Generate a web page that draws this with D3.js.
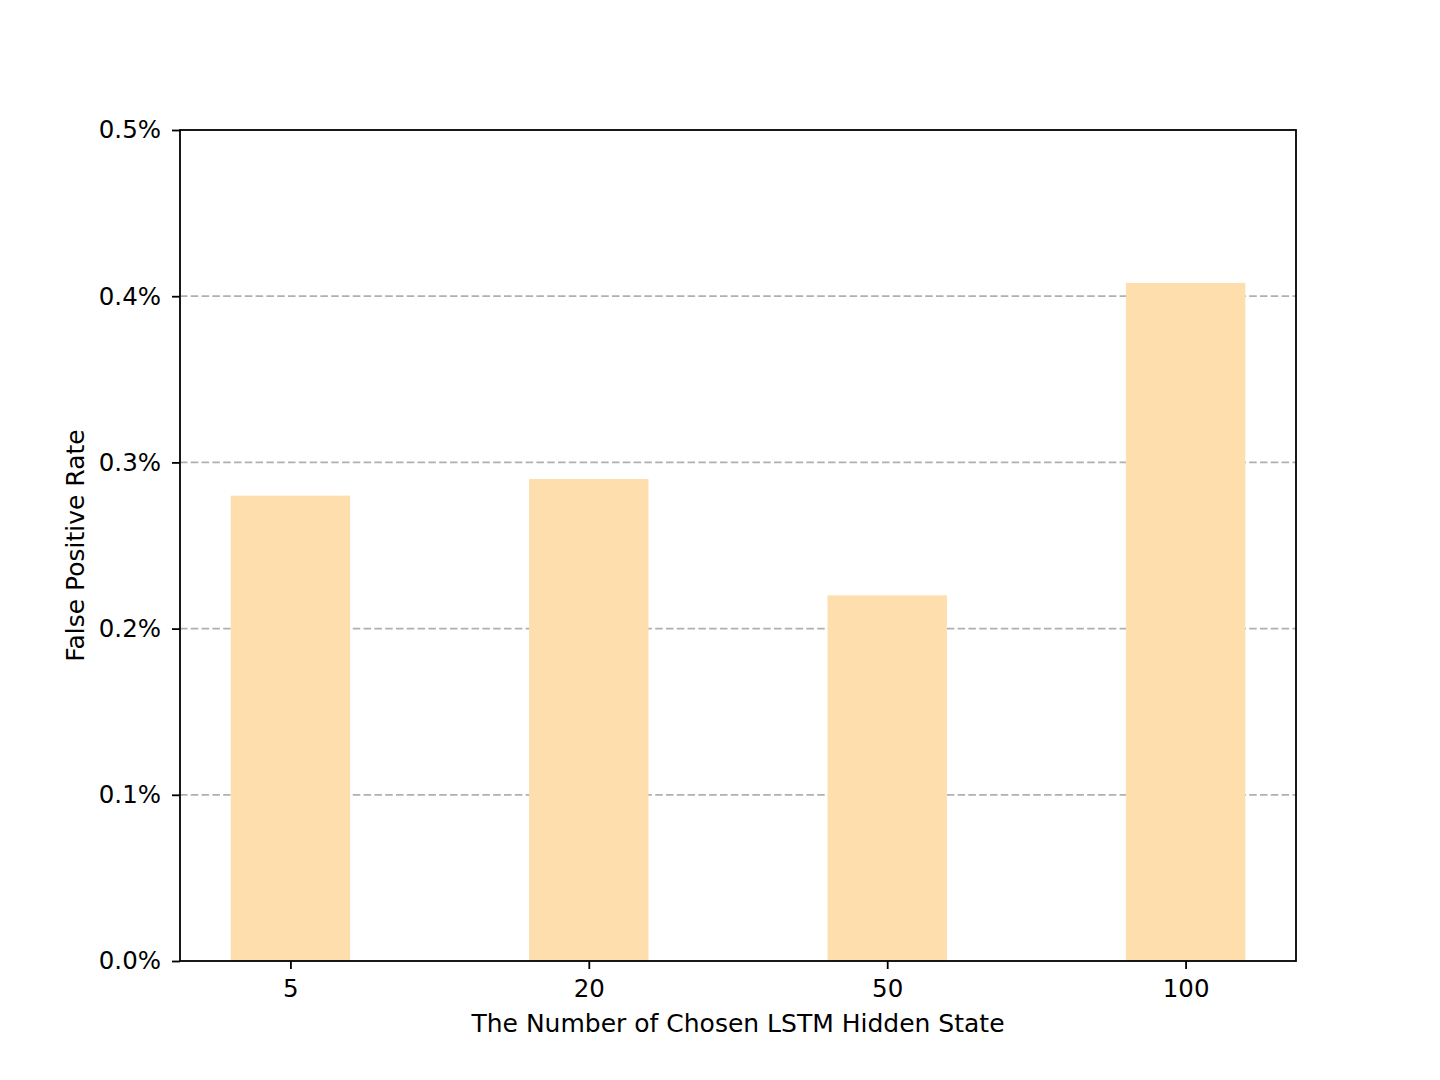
<!DOCTYPE html>
<html><head><meta charset="utf-8">
<script src="https://cdn.jsdelivr.net/npm/d3@7"></script>
<style>body{margin:0;background:#fff}svg{display:block}text{font-family:"DejaVu Sans",sans-serif;fill:#000}</style>
</head><body>
<svg id="c" width="1440" height="1080"></svg>
<script>
const categories = ["5", "20", "50", "100"];
const values = [0.28, 0.29, 0.22, 0.408];
const yTicks = [0, 0.1, 0.2, 0.3, 0.4, 0.5];
const xTitle = "The Number of Chosen LSTM Hidden State";
const yTitle = "False Positive Rate";

const svg = d3.select("#c");
const L = 180, R = 1296, T = 130, B = 961;
const fs = 24.5, fsTitle = 25;
const x = d3.scaleLinear().domain([-0.37, 3.37]).range([L, R]);
const y = d3.scaleLinear().domain([0, 0.5]).range([B, T]);
const bw = 0.4;

// grid
svg.append("g").selectAll("line").data(yTicks.filter(d => d > 0 && d < 0.5)).join("line")
  .attr("x1", L).attr("x2", R).attr("y1", d => y(d)).attr("y2", d => y(d))
  .attr("stroke", "#b0b0b0").attr("stroke-width", 1.8).attr("stroke-dasharray", "7.5,3.3");

// bars
svg.append("g").selectAll("rect").data(values).join("rect")
  .attr("x", (d, i) => x(i - bw / 2)).attr("width", (d, i) => x(i + bw / 2) - x(i - bw / 2))
  .attr("y", d => y(d)).attr("height", d => y(0) - y(d)).attr("fill", "#fddeac");

// axes
const yAxis = d3.axisLeft(y).tickValues(yTicks).tickFormat(d => d.toFixed(1) + "%").tickSize(8).tickPadding(11);
const gy = svg.append("g").attr("transform", `translate(${L},0)`).call(yAxis);
const xAxis = d3.axisBottom(x).tickValues([0, 1, 2, 3]).tickFormat(i => categories[i]).tickSize(8).tickPadding(11);
const gx = svg.append("g").attr("transform", `translate(0,${B})`).call(xAxis);
[gx, gy].forEach(g => {
  g.select(".domain").remove();
  g.selectAll(".tick line").attr("stroke", "#000").attr("stroke-width", 1.8);
  g.selectAll("text").attr("font-size", fs).attr("font-family", "DejaVu Sans");
});

// frame
svg.append("rect").attr("x", L).attr("y", T).attr("width", R - L).attr("height", B - T)
  .attr("fill", "none").attr("stroke", "#000").attr("stroke-width", 1.8);

svg.append("text").attr("x", (L + R) / 2).attr("y", 1032).attr("text-anchor", "middle")
  .attr("font-size", fsTitle).text(xTitle);
svg.append("text").attr("transform", `translate(84,${(T + B) / 2}) rotate(-90)`).attr("text-anchor", "middle")
  .attr("font-size", fsTitle).text(yTitle);
</script>
</body></html>
